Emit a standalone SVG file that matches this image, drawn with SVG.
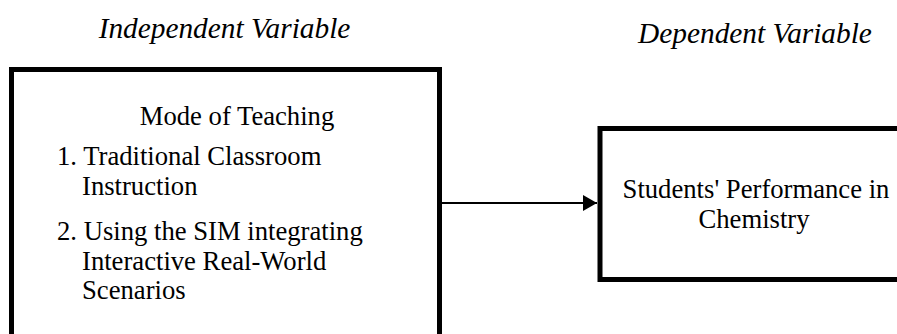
<svg xmlns="http://www.w3.org/2000/svg" width="897" height="334" viewBox="0 0 897 334">
<style>
text{font-family:"Liberation Serif","Times New Roman",serif;font-size:26.67px;fill:#000}
.hd{font-style:italic;font-size:29.33px}
.box{fill:#fff;stroke:#000;stroke-width:5}
.conn{stroke:#000;stroke-width:2;fill:none}
</style>
<defs>
<marker id="ah" markerWidth="14" markerHeight="16" refX="14" refY="8" orient="auto" markerUnits="userSpaceOnUse">
<path d="M0,0 L14,8 L0,16 Z" fill="#000"/>
</marker>
</defs>
<rect width="897" height="334" fill="#fff"/>
<g id="label-independent"><text class="hd" x="224.5" y="38" text-anchor="middle">Independent Variable</text></g>
<g id="label-dependent"><text class="hd" x="755" y="43" text-anchor="middle">Dependent Variable</text></g>
<g id="node-mode">
<rect class="box" x="11.5" y="69.5" width="428" height="290"/>
<text x="237" y="125" text-anchor="middle">Mode of Teaching</text>
<text x="57" y="165">1. Traditional Classroom</text>
<text x="82" y="195">Instruction</text>
<text x="57" y="240">2. Using the SIM integrating</text>
<text x="82" y="269.5">Interactive Real-World</text>
<text x="82" y="299">Scenarios</text>
</g>
<g id="node-performance">
<rect class="box" x="600" y="128.5" width="320" height="151"/>
<text x="756" y="198" text-anchor="middle">Students' Performance in</text>
<text x="754" y="227.5" text-anchor="middle">Chemistry</text>
</g>
<g id="connectors">
<line class="conn" x1="442" y1="203" x2="597" y2="203" marker-end="url(#ah)"/>
</g>
</svg>
